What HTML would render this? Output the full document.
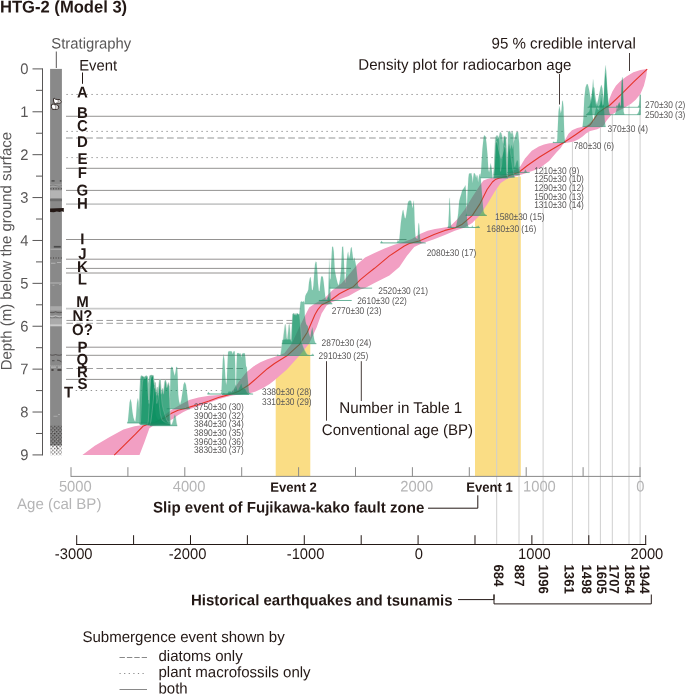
<!DOCTYPE html><html><head><meta charset="utf-8"><title>HTG-2 (Model 3)</title><style>
html,body{margin:0;padding:0;background:#fff;}svg{display:block;will-change:transform;}text{font-family:"Liberation Sans",sans-serif;}
.b{font-weight:bold;}
</style></head><body>
<svg width="685" height="694" viewBox="0 0 685 694">
<rect width="685" height="694" fill="#fff"/>
<text transform="translate(0,12.5) rotate(0.03) scale(1,1.02)" class="b" font-size="16.6" fill="#231815">HTG-2 (Model 3)</text>
<polygon points="475.0,476.0 475.0,211.4 479.6,204.4 487.1,189.5 492.4,182.0 495.3,179.6 499.5,178.0 520.8,176.6 520.8,476.0" fill="#fadd85"/>
<polygon points="275.7,476.0 275.7,362.8 286.9,355.8 299.3,344.6 310.3,344.0 310.3,476.0" fill="#fadd85"/>
<line x1="496.70" y1="188.81" x2="496.70" y2="544.00" stroke="#cfcfcf" stroke-width="1"/>
<line x1="519.00" y1="175.31" x2="519.00" y2="544.00" stroke="#cfcfcf" stroke-width="1"/>
<line x1="543.10" y1="165.48" x2="543.10" y2="544.00" stroke="#cfcfcf" stroke-width="1"/>
<line x1="572.40" y1="141.79" x2="572.40" y2="544.00" stroke="#cfcfcf" stroke-width="1"/>
<line x1="588.70" y1="131.89" x2="588.70" y2="544.00" stroke="#cfcfcf" stroke-width="1"/>
<line x1="600.40" y1="127.81" x2="600.40" y2="544.00" stroke="#cfcfcf" stroke-width="1"/>
<line x1="612.30" y1="114.24" x2="612.30" y2="544.00" stroke="#cfcfcf" stroke-width="1"/>
<line x1="629.00" y1="105.03" x2="629.00" y2="544.00" stroke="#cfcfcf" stroke-width="1"/>
<line x1="640.10" y1="95.00" x2="640.10" y2="544.00" stroke="#cfcfcf" stroke-width="1"/>
<polygon points="82.4,455.1 94.8,445.7 109.7,437.0 123.4,429.6 134.5,426.2 144.5,424.8 154.4,422.4 162.0,417.0 170.5,410.5 179.9,405.0 189.2,400.0 198.5,397.5 209.0,395.8 218.4,394.9 227.0,393.9 231.0,392.2 234.0,389.0 239.0,381.5 246.4,372.2 253.4,366.4 260.4,362.3 267.4,359.3 274.5,357.0 284.4,353.3 291.8,343.4 298.0,330.0 304.2,317.3 309.2,307.4 315.0,303.5 324.9,298.0 332.4,290.2 341.7,283.2 347.6,276.2 353.4,269.2 358.1,263.4 365.1,257.5 374.5,253.0 384.5,248.5 394.4,244.7 404.3,241.7 411.8,239.0 416.0,236.5 420.5,233.8 427.6,230.7 435.0,229.0 440.0,228.2 449.9,226.6 457.3,219.3 464.7,209.4 472.0,197.5 479.6,185.8 483.4,180.5 488.0,178.8 493.5,177.6 506.0,173.6 516.0,169.5 520.4,166.2 525.0,158.5 531.8,150.8 538.8,146.6 544.0,144.5 549.3,143.3 556.3,142.8 563.3,142.3 565.0,139.9 568.5,133.8 572.0,130.3 577.3,127.9 582.6,126.8 587.0,125.6 592.5,120.7 597.2,114.9 603.0,109.0 608.3,105.5 609.5,98.5 612.4,91.5 615.9,85.7 620.5,81.0 626.4,76.4 633.4,72.3 640.4,69.9 647.2,69.1 647.2,69.1 646.2,76.4 643.9,85.7 640.4,93.9 635.7,99.7 631.1,103.8 624.1,107.9 617.0,111.4 611.2,114.9 606.5,120.7 603.0,126.6 597.2,129.3 590.2,131.0 586.0,133.5 582.6,136.4 579.0,139.0 573.8,141.5 568.5,142.6 564.2,143.0 562.6,145.0 560.7,148.0 556.6,152.3 549.1,161.0 539.2,168.4 529.3,172.1 521.8,174.4 514.4,176.8 506.9,179.0 500.7,183.0 494.5,192.0 487.1,204.4 479.6,215.6 472.2,223.0 464.7,227.6 454.8,230.8 444.9,234.9 434.1,239.3 421.7,243.4 414.2,247.0 406.8,255.9 399.4,267.1 389.4,275.5 374.5,283.0 365.1,287.9 360.4,289.6 355.7,291.9 348.7,296.1 341.7,298.6 332.4,302.0 326.6,305.5 321.6,313.6 316.7,327.2 309.2,343.4 299.3,355.8 286.9,369.4 274.5,380.3 269.7,383.9 262.7,388.3 255.7,391.6 249.9,393.2 241.7,394.2 232.4,395.4 225.4,397.2 218.4,399.3 206.7,403.4 195.0,407.4 189.2,409.2 183.4,412.1 177.5,415.5 173.7,418.5 167.0,422.0 160.0,424.2 153.1,425.8 149.4,428.3 144.5,442.0 139.5,455.1" fill="#f29fc3"/>
<line x1="66" y1="94.46" x2="611.2" y2="94.46" stroke="#7a7a7a" stroke-width="0.8" stroke-dasharray="1.4,3.6" stroke-dashoffset="-0.4"/>
<line x1="66" y1="116.27" x2="587.0" y2="116.27" stroke="#787675" stroke-width="0.8"/>
<line x1="66" y1="131.4" x2="564.0" y2="131.4" stroke="#7a7a7a" stroke-width="0.8" stroke-dasharray="1.4,3.6" stroke-dashoffset="-0.4"/>
<line x1="66" y1="138" x2="554.5" y2="138" stroke="#c9caca" stroke-width="1.9" stroke-dasharray="6.7,3.4"/>
<line x1="66" y1="157.6" x2="516.0" y2="157.6" stroke="#7a7a7a" stroke-width="0.8" stroke-dasharray="1.4,3.6" stroke-dashoffset="-0.4"/>
<line x1="66" y1="168.3" x2="517.6" y2="168.3" stroke="#787675" stroke-width="0.8"/>
<line x1="66" y1="190.4" x2="476.6" y2="190.4" stroke="#787675" stroke-width="0.8"/>
<line x1="66" y1="204.1" x2="468.0" y2="204.1" stroke="#c9caca" stroke-width="1.7"/>
<line x1="66" y1="239.5" x2="406.5" y2="239.5" stroke="#787675" stroke-width="0.8"/>
<line x1="66" y1="259.2" x2="362.2" y2="259.2" stroke="#787675" stroke-width="0.8"/>
<line x1="66" y1="268.4" x2="351.0" y2="268.4" stroke="#787675" stroke-width="0.8"/>
<line x1="66" y1="273" x2="345.8" y2="273" stroke="#787675" stroke-width="0.8"/>
<line x1="66" y1="308.7" x2="300.5" y2="308.7" stroke="#c9caca" stroke-width="1.7"/>
<line x1="66" y1="320.45" x2="292.7" y2="320.45" stroke="#858585" stroke-width="0.8" stroke-dasharray="6.6,3.4" stroke-dashoffset="-0.4"/>
<line x1="66" y1="323.3" x2="292.7" y2="323.3" stroke="#858585" stroke-width="0.8" stroke-dasharray="6.6,3.4" stroke-dashoffset="-0.4"/>
<line x1="66" y1="347.2" x2="281.6" y2="347.2" stroke="#787675" stroke-width="0.8"/>
<line x1="66" y1="355.3" x2="277.6" y2="355.3" stroke="#787675" stroke-width="0.8"/>
<line x1="66" y1="368.5" x2="243.5" y2="368.5" stroke="#858585" stroke-width="0.8" stroke-dasharray="6.6,3.4" stroke-dashoffset="-0.4"/>
<line x1="66" y1="379.4" x2="240.7" y2="379.4" stroke="#787675" stroke-width="0.8"/>
<line x1="75.3" y1="390.5" x2="221.5" y2="390.5" stroke="#7a7a7a" stroke-width="0.8" stroke-dasharray="1.4,3.6" stroke-dashoffset="-0.4"/>
<polyline points="114.2,455.1 135.4,434.2 143.4,425.9 148.0,424.3 155.0,422.2 164.4,418.1 171.0,413.6 178.0,410.2 186.0,408.2 192.0,406.4 198.5,404.5 209.0,401.0 218.4,397.5 225.4,395.6 232.4,393.8 239.4,390.9 248.7,385.0 258.1,376.9 267.4,368.7 274.5,363.5 286.9,355.8 299.3,344.6 307.3,332.2 314.9,314.8 318.0,309.3 321.6,305.0 330.0,300.7 339.4,293.7 347.6,289.6 353.4,286.7 360.4,279.7 367.4,273.9 374.5,268.3 389.4,255.9 404.3,246.0 409.3,243.5 419.2,241.0 434.1,234.6 444.9,230.4 454.8,228.0 462.3,224.2 472.2,215.6 479.6,204.4 487.1,189.5 492.4,182.0 495.3,179.6 499.5,178.0 506.4,176.6 519.2,172.0 527.4,165.5 539.2,157.2 551.0,150.0 564.2,142.3 575.5,134.7 585.5,127.7 590.2,124.8 593.7,119.6 598.4,112.6 604.2,108.5 610.0,105.0 621.7,93.9 633.4,82.2 647.2,69.1" fill="none" stroke="#e5352b" stroke-width="1.1" stroke-linejoin="round"/>
<polygon points="582.6,126.6 583.4,118.4 584.3,98.5 585.5,87.4 586.7,84.3 587.8,84.3 589.0,89.2 590.2,96.2 591.4,103.2 592.5,114.9 593.5,121.7 594.4,116.1 595.8,109.1 597.2,103.2 598.4,98.5 599.5,92.7 600.5,87.4 601.4,84.8 602.4,88.6 603.4,98.5 604.2,112.6 604.9,121.9 605.6,126.6" fill="#0a9060" fill-opacity="0.52" stroke="#7fbfa4" stroke-opacity="0.35" stroke-width="0.3"/>
<polygon points="586.1,114.7 587.6,113.1 589.2,111.4 590.4,106.7 591.4,99.7 592.3,91.5 593.1,87.4 593.9,93.9 594.9,100.9 596.0,105.5 597.4,109.1 598.9,110.2 600.1,104.4 600.9,95.0 601.6,98.5 602.6,106.7 603.5,104.4 604.2,89.2 604.9,77.5 605.6,72.8 606.3,78.7 607.2,92.7 608.2,104.4 609.1,111.4 610.0,114.7 614.7,114.7 616.1,111.4 617.0,106.7 617.7,109.1 618.4,105.5 619.4,102.6 620.1,106.7 620.7,106.7 621.2,95.0 621.7,83.4 622.1,79.9 622.6,79.9 623.0,95.0 623.6,111.4 624.5,114.7 636.9,114.7 638.6,112.0 639.5,109.1 640.1,106.7 640.3,114.7" fill="#0a9060" fill-opacity="0.52" stroke="#7fbfa4" stroke-opacity="0.35" stroke-width="0.3"/>
<polygon points="587.6,107.3 589.0,106.5 590.4,103.2 591.6,96.2 592.5,86.9 593.1,79.3 593.7,86.9 594.4,88.0 595.1,95.0 596.0,100.9 597.2,105.0 598.4,106.5 600.1,104.4 601.3,99.7 602.4,105.5 603.5,104.4 604.2,89.2 604.9,71.7 605.6,65.3 606.3,71.7 607.2,86.9 608.2,99.7 609.1,106.1 610.0,107.3 615.9,107.3 616.8,105.0 617.5,106.1 618.4,103.8 619.4,102.0 620.1,105.5 620.9,105.5 621.4,92.7 621.7,81.0 622.1,77.5 622.6,77.5 623.0,83.4 623.4,98.5 623.8,107.3 637.5,107.3 639.0,105.0 639.7,99.7 639.9,95.0 640.2,94.5 640.4,107.3" fill="#0a9060" fill-opacity="0.52" stroke="#7fbfa4" stroke-opacity="0.35" stroke-width="0.3"/>
<polygon points="552.8,142.6 553.5,141.5 554.1,142.3 556.7,142.3 557.3,139.0 557.9,125.0 558.5,111.9 559.3,105.8 560.0,109.3 560.8,113.6 561.5,110.1 562.2,101.4 562.8,100.5 563.5,107.5 564.0,125.0 564.4,135.5 565.0,141.7 565.5,142.6" fill="#0a9060" fill-opacity="0.52" stroke="#7fbfa4" stroke-opacity="0.35" stroke-width="0.3"/>
<polygon points="480.5,177.8 480.9,173.7 481.6,162.0 482.4,149.2 483.6,137.5 484.2,135.2 485.6,136.4 486.5,143.4 487.5,155.0 488.3,169.1 489.1,172.6 489.8,169.1 490.6,163.2 491.4,166.7 492.1,172.6 492.6,177.8" fill="#0a9060" fill-opacity="0.52" stroke="#7fbfa4" stroke-opacity="0.35" stroke-width="0.3"/>
<polygon points="493.3,178.0 493.9,176.1 494.7,155.0 495.3,137.5 497.0,135.2 498.8,137.5 499.4,143.4 500.0,155.0 500.5,171.4 501.7,164.4 502.9,149.2 504.1,136.4 505.2,136.4 506.0,138.7 507.0,174.9 507.6,177.2 508.1,178.0" fill="#0a9060" fill-opacity="0.52" stroke="#7fbfa4" stroke-opacity="0.35" stroke-width="0.3"/>
<polygon points="493.5,177.2 494.5,166.7 495.3,143.4 496.5,137.5 497.6,138.7 498.8,137.5 500.0,132.3 501.1,132.8 501.9,135.2 503.1,143.4 504.1,135.8 505.8,137.5 506.6,155.0 507.2,176.1 507.8,155.0 508.4,143.4 509.3,146.9 510.5,152.7 511.6,160.9 512.8,169.1 514.0,174.9 514.6,177.2" fill="#0a9060" fill-opacity="0.52" stroke="#7fbfa4" stroke-opacity="0.35" stroke-width="0.3"/>
<polygon points="493.5,174.9 494.5,164.4 495.3,145.7 496.5,141.0 497.6,143.4 498.8,150.4 500.0,155.0 501.1,158.5 502.3,155.0 503.5,150.4 504.6,145.7 505.8,148.0 506.6,166.7 507.2,173.7 507.8,155.0 508.1,131.7 509.9,131.1 511.1,134.0 512.2,131.1 513.4,136.4 514.0,155.0 514.8,166.7 515.7,163.2 516.9,159.7 518.1,160.9 519.0,169.1 519.8,174.9" fill="#0a9060" fill-opacity="0.52" stroke="#7fbfa4" stroke-opacity="0.35" stroke-width="0.3"/>
<polygon points="507.0,172.6 507.8,155.0 508.5,143.4 509.3,144.5 510.5,149.2 511.6,144.5 512.8,149.2 513.4,143.4 514.6,138.7 516.3,132.3 518.1,131.7 519.2,143.4 519.9,172.6 523.3,172.6 524.5,171.4 525.4,169.6 526.5,171.4 527.4,172.6 529.7,172.6" fill="#0a9060" fill-opacity="0.52" stroke="#7fbfa4" stroke-opacity="0.35" stroke-width="0.3"/>
<polygon points="465.7,215.4 466.4,213.4 467.0,205.3 467.7,190.2 468.4,178.1 469.0,173.6 470.3,173.6 471.3,173.1 472.1,177.1 472.7,183.2 473.3,177.1 473.9,173.1 474.8,173.6 475.5,175.1 476.1,178.1 476.9,175.1 477.5,176.1 478.1,182.6 478.9,177.1 479.5,174.6 480.3,173.6 480.8,178.1 481.3,185.2 482.1,195.3 482.9,205.3 483.6,211.4 484.4,213.4 485.4,214.6 486.9,215.4" fill="#0a9060" fill-opacity="0.52" stroke="#7fbfa4" stroke-opacity="0.35" stroke-width="0.3"/>
<polygon points="447.6,227.5 448.3,225.5 448.9,213.4 449.4,199.3 449.7,197.8 450.1,205.3 450.7,221.5 451.3,226.5 452.1,227.3 455.6,227.3 456.3,225.5 457.1,221.5 458.2,213.4 459.2,201.3 460.2,197.3 461.2,194.2 462.2,190.2 463.4,188.7 464.7,186.7 465.4,185.2 466.0,191.2 466.4,205.3 466.8,215.4 467.4,222.5 468.2,226.5 469.2,227.3 471.5,227.3 472.3,225.5 472.9,227.1 476.3,226.9 477.0,225.8 477.6,226.7 478.3,225.5 479.1,226.7 479.8,227.5" fill="#0a9060" fill-opacity="0.52" stroke="#7fbfa4" stroke-opacity="0.35" stroke-width="0.3"/>
<polygon points="380.4,243.0 381.0,241.7 381.6,240.8 382.2,242.1 382.9,242.7 396.5,242.7 397.3,241.7 397.9,239.9 398.6,241.2 399.3,239.9 400.0,232.0 400.8,223.3 401.7,216.3 402.6,211.0 403.2,209.7 403.9,213.6 404.8,218.0 405.5,218.5 406.1,215.4 407.0,209.3 407.8,203.1 408.7,200.9 410.0,200.5 411.1,200.9 411.8,204.5 412.7,208.4 413.3,203.1 413.7,200.5 414.2,207.5 414.6,220.7 415.1,232.0 415.6,237.7 416.6,238.6 417.5,239.0 417.9,233.8 418.4,225.0 418.8,222.8 419.2,225.0 419.7,233.8 420.4,240.8 421.4,242.6 425.8,243.0" fill="#0a9060" fill-opacity="0.52" stroke="#7fbfa4" stroke-opacity="0.35" stroke-width="0.3"/>
<polygon points="329.6,288.2 330.0,278.5 330.6,279.7 331.2,263.4 332.1,247.0 333.0,246.4 333.8,251.7 334.7,269.2 335.9,276.2 337.6,283.2 338.8,285.5 340.0,279.7 341.1,269.2 342.1,247.0 343.1,246.4 343.8,257.5 344.6,278.5 345.2,283.2 346.0,275.0 346.7,261.0 347.6,254.0 348.1,251.7 349.0,258.7 349.9,255.2 350.8,248.2 351.6,247.0 352.5,254.0 353.4,261.0 354.3,257.5 355.1,261.0 356.3,266.9 357.5,278.5 358.1,286.1 360.4,287.8 372.1,288.0" fill="#0a9060" fill-opacity="0.52" stroke="#7fbfa4" stroke-opacity="0.35" stroke-width="0.3"/>
<polygon points="318.9,300.5 318.9,300.1 328.1,300.1 328.5,286.7 328.9,269.2 329.2,258.7 329.7,275.0 330.2,289.1 330.7,300.1 351.6,300.1 351.6,300.5" fill="#0a9060" fill-opacity="0.52" stroke="#7fbfa4" stroke-opacity="0.35" stroke-width="0.3"/>
<polygon points="304.5,303.8 305.3,295.9 306.3,293.8 307.3,292.3 308.3,289.7 309.0,282.6 309.9,278.0 310.5,277.0 311.2,281.6 311.9,289.7 312.7,290.3 313.4,285.7 314.1,275.4 315.0,264.2 315.8,261.6 316.5,262.2 317.2,270.3 318.0,283.6 318.8,290.8 319.6,291.3 320.3,283.6 321.1,277.0 321.9,275.9 322.9,277.0 323.6,281.6 324.4,288.7 325.2,295.9 326.0,300.0 327.2,297.9 328.2,295.9 329.3,297.9 330.8,302.0 332.3,303.8" fill="#0a9060" fill-opacity="0.52" stroke="#7fbfa4" stroke-opacity="0.35" stroke-width="0.3"/>
<polygon points="281.9,343.7 282.3,339.9 285.1,339.4 288.2,339.6 291.4,339.4 292.0,325.3 292.7,314.2 293.4,312.9 294.2,314.7 295.0,313.2 296.0,315.2 297.0,312.9 298.2,314.2 299.4,313.7 300.0,307.1 300.6,302.1 301.5,301.3 302.5,302.1 303.5,301.3 304.3,302.1 304.8,315.2 305.5,321.2 306.3,324.2 307.8,326.3 308.8,333.3 310.3,337.4 311.3,331.3 312.4,327.3 313.2,333.3 314.4,340.4 315.4,342.9 316.4,343.7" fill="#0a9060" fill-opacity="0.52" stroke="#7fbfa4" stroke-opacity="0.35" stroke-width="0.3"/>
<polygon points="277.1,355.5 277.9,354.3 278.7,355.3 280.6,355.1 281.3,349.5 282.1,343.4 283.1,339.4 284.1,331.3 284.9,325.3 285.4,324.2 285.9,328.3 286.6,337.4 287.3,339.4 288.2,331.3 288.9,324.7 289.4,324.4 289.9,328.3 290.6,339.4 291.4,341.4 292.0,325.3 292.7,314.2 293.4,313.2 294.2,315.0 295.0,313.4 296.0,315.4 297.0,313.2 298.2,314.4 299.4,314.0 300.3,323.2 301.1,335.3 301.8,342.4 302.8,345.4 304.3,349.5 305.3,351.5 306.3,353.3 307.3,354.5 308.8,355.0 310.3,355.3 311.8,354.7 312.9,353.8 313.9,355.5" fill="#0a9060" fill-opacity="0.52" stroke="#7fbfa4" stroke-opacity="0.35" stroke-width="0.3"/>
<polygon points="207.4,394.1 208.0,392.6 208.6,391.9 209.2,393.1 210.0,393.7 220.9,393.7 221.5,391.6 222.1,376.3 222.9,358.9 223.7,354.3 224.5,360.9 225.3,376.3 226.1,385.0 226.8,381.4 227.4,366.0 228.0,352.8 228.6,351.2 230.7,351.2 231.9,351.5 232.7,354.3 233.5,351.5 234.7,351.2 235.2,366.0 235.5,389.5 236.0,389.5 236.4,371.2 237.0,353.3 238.3,353.0 239.3,353.8 240.4,353.3 241.4,357.4 242.1,353.8 243.4,353.3 244.8,353.3 245.5,358.9 246.0,366.0 246.8,367.6 247.5,376.3 248.2,383.4 249.0,392.6 250.6,393.6 253.1,394.1" fill="#0a9060" fill-opacity="0.52" stroke="#7fbfa4" stroke-opacity="0.35" stroke-width="0.3"/>
<polygon points="222.0,394.4 223.0,393.6 224.0,393.1 225.0,393.8 227.6,393.6 228.6,391.6 230.7,391.6 231.7,392.6 232.5,390.6 233.3,392.1 234.2,389.5 235.1,386.5 235.8,384.4 236.5,387.5 237.3,390.1 238.0,390.6 238.8,388.5 239.9,386.5 240.7,384.4 241.4,383.4 242.1,386.5 242.9,388.5 243.9,388.3 245.0,388.5 246.0,390.6 247.0,392.6 248.0,393.6 249.0,394.4" fill="#0a9060" fill-opacity="0.52" stroke="#7fbfa4" stroke-opacity="0.35" stroke-width="0.3"/>
<polygon points="166.7,408.8 169.6,408.4 170.2,388.4 170.6,369.7 171.4,366.8 172.6,367.3 173.7,372.0 174.7,376.1 175.5,372.0 176.3,366.8 177.2,367.3 177.7,376.7 178.2,394.2 179.0,401.2 180.1,404.7 181.3,400.0 182.5,391.9 183.6,384.3 184.8,381.9 186.0,384.9 187.2,394.2 188.3,403.5 189.1,408.2 190.1,408.8" fill="#0a9060" fill-opacity="0.52" stroke="#7fbfa4" stroke-opacity="0.35" stroke-width="0.3"/>
<polygon points="127.2,423.0 127.9,421.1 128.8,411.7 129.6,402.4 130.5,398.9 131.4,402.4 132.4,411.7 133.4,417.6 134.6,421.1 135.4,421.6 136.1,415.2 136.9,403.5 137.8,398.3 138.5,401.2 139.0,409.4 139.5,394.2 140.1,379.0 141.0,375.5 142.8,376.1 143.9,377.3 145.1,376.1 146.6,375.5 147.6,376.7 148.0,383.7 148.7,380.2 149.7,375.5 151.3,374.9 152.9,375.3 153.9,377.8 154.5,394.2 155.0,409.4 156.2,416.4 158.5,419.9 162.0,421.6 166.7,422.5 170.2,423.0" fill="#0a9060" fill-opacity="0.52" stroke="#7fbfa4" stroke-opacity="0.35" stroke-width="0.3"/>
<polygon points="139.3,424.0 139.9,400.0 140.6,381.4 141.3,376.1 143.4,376.7 144.8,377.8 146.3,376.1 147.4,376.7 148.0,388.4 148.6,400.0 149.2,388.4 149.9,376.1 151.5,375.3 153.3,375.7 154.1,382.5 154.7,384.9 155.3,382.5 156.0,390.7 156.8,403.5 157.6,400.0 158.5,394.2 159.2,403.5 160.3,414.1 162.0,419.9 165.5,422.8 170.2,424.0" fill="#0a9060" fill-opacity="0.52" stroke="#7fbfa4" stroke-opacity="0.35" stroke-width="0.3"/>
<polygon points="140.4,424.6 141.0,411.7 141.7,394.2 142.4,382.5 143.4,377.8 145.1,379.0 146.6,376.7 147.6,377.8 148.3,394.2 149.0,403.5 149.7,394.2 150.4,380.2 151.5,376.1 153.2,376.1 153.9,380.2 154.6,384.9 155.3,382.5 156.0,391.9 156.7,395.4 157.4,387.8 158.1,394.2 158.8,388.4 159.5,380.2 160.1,379.0 160.6,384.9 161.3,395.4 162.0,403.5 163.2,409.4 165.0,415.2 166.7,419.9 168.5,422.8 170.2,424.6" fill="#0a9060" fill-opacity="0.52" stroke="#7fbfa4" stroke-opacity="0.35" stroke-width="0.3"/>
<polygon points="147.4,425.1 148.3,421.1 149.2,405.9 149.9,388.4 150.6,379.0 151.5,375.5 153.2,375.5 153.9,381.4 154.6,388.4 155.3,383.1 156.0,391.9 156.8,389.5 157.4,387.2 158.1,393.0 158.8,387.2 159.5,380.2 160.1,379.0 160.6,383.7 161.3,393.0 162.0,389.5 162.7,388.4 163.4,393.0 164.1,387.2 164.8,381.4 165.5,379.6 166.2,382.5 166.9,387.2 167.6,384.9 168.5,382.5 169.2,386.0 169.8,400.0 170.2,425.1" fill="#0a9060" fill-opacity="0.52" stroke="#7fbfa4" stroke-opacity="0.35" stroke-width="0.3"/>
<polygon points="149.8,425.7 150.9,421.1 152.1,411.7 153.3,400.0 154.1,388.4 155.0,382.5 155.7,388.4 156.4,391.9 157.4,387.2 158.1,395.4 158.8,388.4 159.5,380.8 160.1,379.2 160.6,384.3 161.3,394.2 162.0,390.1 162.7,388.4 163.4,394.2 164.1,387.8 164.8,381.9 165.5,379.8 166.2,382.8 166.9,387.8 167.6,385.4 168.5,382.8 169.2,386.6 169.8,400.0 170.2,424.0 171.2,424.8 172.0,424.0 173.1,421.1 174.3,415.8 174.9,414.6 175.6,416.4 176.4,422.2 177.2,425.7" fill="#0a9060" fill-opacity="0.52" stroke="#7fbfa4" stroke-opacity="0.35" stroke-width="0.3"/>
<polyline points="493.3,178.0 493.9,176.1 494.7,155.0 495.3,137.5 497.0,135.2 498.8,137.5 499.4,143.4 500.0,155.0 500.5,171.4 501.7,164.4 502.9,149.2 504.1,136.4 505.2,136.4 506.0,138.7 507.0,174.9 507.6,177.2 508.1,178.0" fill="none" stroke="#b7cdc1" stroke-opacity="0.55" stroke-width="0.5"/>
<polyline points="493.5,177.2 494.5,166.7 495.3,143.4 496.5,137.5 497.6,138.7 498.8,137.5 500.0,132.3 501.1,132.8 501.9,135.2 503.1,143.4 504.1,135.8 505.8,137.5 506.6,155.0 507.2,176.1 507.8,155.0 508.4,143.4 509.3,146.9 510.5,152.7 511.6,160.9 512.8,169.1 514.0,174.9 514.6,177.2" fill="none" stroke="#b7cdc1" stroke-opacity="0.55" stroke-width="0.5"/>
<polyline points="493.5,174.9 494.5,164.4 495.3,145.7 496.5,141.0 497.6,143.4 498.8,150.4 500.0,155.0 501.1,158.5 502.3,155.0 503.5,150.4 504.6,145.7 505.8,148.0 506.6,166.7 507.2,173.7 507.8,155.0 508.1,131.7 509.9,131.1 511.1,134.0 512.2,131.1 513.4,136.4 514.0,155.0 514.8,166.7 515.7,163.2 516.9,159.7 518.1,160.9 519.0,169.1 519.8,174.9" fill="none" stroke="#b7cdc1" stroke-opacity="0.55" stroke-width="0.5"/>
<polyline points="277.1,355.5 277.9,354.3 278.7,355.3 280.6,355.1 281.3,349.5 282.1,343.4 283.1,339.4 284.1,331.3 284.9,325.3 285.4,324.2 285.9,328.3 286.6,337.4 287.3,339.4 288.2,331.3 288.9,324.7 289.4,324.4 289.9,328.3 290.6,339.4 291.4,341.4 292.0,325.3 292.7,314.2 293.4,313.2 294.2,315.0 295.0,313.4 296.0,315.4 297.0,313.2 298.2,314.4 299.4,314.0 300.3,323.2 301.1,335.3 301.8,342.4 302.8,345.4 304.3,349.5 305.3,351.5 306.3,353.3 307.3,354.5 308.8,355.0 310.3,355.3 311.8,354.7 312.9,353.8 313.9,355.5" fill="none" stroke="#b7cdc1" stroke-opacity="0.55" stroke-width="0.5"/>
<polyline points="139.3,424.0 139.9,400.0 140.6,381.4 141.3,376.1 143.4,376.7 144.8,377.8 146.3,376.1 147.4,376.7 148.0,388.4 148.6,400.0 149.2,388.4 149.9,376.1 151.5,375.3 153.3,375.7 154.1,382.5 154.7,384.9 155.3,382.5 156.0,390.7 156.8,403.5 157.6,400.0 158.5,394.2 159.2,403.5 160.3,414.1 162.0,419.9 165.5,422.8 170.2,424.0" fill="none" stroke="#b7cdc1" stroke-opacity="0.55" stroke-width="0.5"/>
<polyline points="140.4,424.6 141.0,411.7 141.7,394.2 142.4,382.5 143.4,377.8 145.1,379.0 146.6,376.7 147.6,377.8 148.3,394.2 149.0,403.5 149.7,394.2 150.4,380.2 151.5,376.1 153.2,376.1 153.9,380.2 154.6,384.9 155.3,382.5 156.0,391.9 156.7,395.4 157.4,387.8 158.1,394.2 158.8,388.4 159.5,380.2 160.1,379.0 160.6,384.9 161.3,395.4 162.0,403.5 163.2,409.4 165.0,415.2 166.7,419.9 168.5,422.8 170.2,424.6" fill="none" stroke="#b7cdc1" stroke-opacity="0.55" stroke-width="0.5"/>
<polyline points="147.4,425.1 148.3,421.1 149.2,405.9 149.9,388.4 150.6,379.0 151.5,375.5 153.2,375.5 153.9,381.4 154.6,388.4 155.3,383.1 156.0,391.9 156.8,389.5 157.4,387.2 158.1,393.0 158.8,387.2 159.5,380.2 160.1,379.0 160.6,383.7 161.3,393.0 162.0,389.5 162.7,388.4 163.4,393.0 164.1,387.2 164.8,381.4 165.5,379.6 166.2,382.5 166.9,387.2 167.6,384.9 168.5,382.5 169.2,386.0 169.8,400.0 170.2,425.1" fill="none" stroke="#b7cdc1" stroke-opacity="0.55" stroke-width="0.5"/>
<polyline points="149.8,425.7 150.9,421.1 152.1,411.7 153.3,400.0 154.1,388.4 155.0,382.5 155.7,388.4 156.4,391.9 157.4,387.2 158.1,395.4 158.8,388.4 159.5,380.8 160.1,379.2 160.6,384.3 161.3,394.2 162.0,390.1 162.7,388.4 163.4,394.2 164.1,387.8 164.8,381.9 165.5,379.8 166.2,382.8 166.9,387.8 167.6,385.4 168.5,382.8 169.2,386.6 169.8,400.0 170.2,424.0 171.2,424.8 172.0,424.0 173.1,421.1 174.3,415.8 174.9,414.6 175.6,416.4 176.4,422.2 177.2,425.7" fill="none" stroke="#b7cdc1" stroke-opacity="0.55" stroke-width="0.5"/>
<line x1="582.6" y1="126.57" x2="605.6" y2="126.57" stroke="#1d8a62" stroke-opacity="0.8" stroke-width="0.6"/>
<line x1="586.1" y1="114.66" x2="640.3" y2="114.66" stroke="#1d8a62" stroke-opacity="0.8" stroke-width="0.6"/>
<line x1="587.6" y1="107.30" x2="640.4" y2="107.30" stroke="#1d8a62" stroke-opacity="0.8" stroke-width="0.6"/>
<line x1="552.8" y1="142.55" x2="565.5" y2="142.55" stroke="#1d8a62" stroke-opacity="0.8" stroke-width="0.6"/>
<line x1="480.5" y1="177.81" x2="492.6" y2="177.81" stroke="#1d8a62" stroke-opacity="0.8" stroke-width="0.6"/>
<line x1="493.3" y1="178.04" x2="508.1" y2="178.04" stroke="#1d8a62" stroke-opacity="0.8" stroke-width="0.6"/>
<line x1="493.5" y1="177.23" x2="514.6" y2="177.23" stroke="#1d8a62" stroke-opacity="0.8" stroke-width="0.6"/>
<line x1="493.5" y1="174.89" x2="519.8" y2="174.89" stroke="#1d8a62" stroke-opacity="0.8" stroke-width="0.6"/>
<line x1="507.0" y1="172.55" x2="529.7" y2="172.55" stroke="#1d8a62" stroke-opacity="0.8" stroke-width="0.6"/>
<line x1="465.7" y1="215.42" x2="486.9" y2="215.42" stroke="#1d8a62" stroke-opacity="0.8" stroke-width="0.6"/>
<line x1="447.6" y1="227.52" x2="479.8" y2="227.52" stroke="#1d8a62" stroke-opacity="0.8" stroke-width="0.6"/>
<line x1="380.4" y1="242.99" x2="425.8" y2="242.99" stroke="#1d8a62" stroke-opacity="0.8" stroke-width="0.6"/>
<line x1="329.6" y1="288.23" x2="372.1" y2="288.23" stroke="#1d8a62" stroke-opacity="0.8" stroke-width="0.6"/>
<line x1="318.9" y1="300.50" x2="351.6" y2="300.50" stroke="#1d8a62" stroke-opacity="0.8" stroke-width="0.6"/>
<line x1="304.5" y1="303.85" x2="332.3" y2="303.85" stroke="#1d8a62" stroke-opacity="0.8" stroke-width="0.6"/>
<line x1="281.9" y1="343.70" x2="316.4" y2="343.70" stroke="#1d8a62" stroke-opacity="0.8" stroke-width="0.6"/>
<line x1="277.1" y1="355.50" x2="313.9" y2="355.50" stroke="#1d8a62" stroke-opacity="0.8" stroke-width="0.6"/>
<line x1="207.4" y1="394.15" x2="253.1" y2="394.15" stroke="#1d8a62" stroke-opacity="0.8" stroke-width="0.6"/>
<line x1="222.0" y1="394.35" x2="249.0" y2="394.35" stroke="#1d8a62" stroke-opacity="0.8" stroke-width="0.6"/>
<line x1="166.7" y1="408.80" x2="190.1" y2="408.80" stroke="#1d8a62" stroke-opacity="0.8" stroke-width="0.6"/>
<line x1="127.2" y1="423.04" x2="170.2" y2="423.04" stroke="#1d8a62" stroke-opacity="0.8" stroke-width="0.6"/>
<line x1="139.3" y1="423.98" x2="170.2" y2="423.98" stroke="#1d8a62" stroke-opacity="0.8" stroke-width="0.6"/>
<line x1="140.4" y1="424.56" x2="170.2" y2="424.56" stroke="#1d8a62" stroke-opacity="0.8" stroke-width="0.6"/>
<line x1="147.4" y1="425.15" x2="170.2" y2="425.15" stroke="#1d8a62" stroke-opacity="0.8" stroke-width="0.6"/>
<line x1="149.8" y1="425.73" x2="177.2" y2="425.73" stroke="#1d8a62" stroke-opacity="0.8" stroke-width="0.6"/>
<line x1="640.30" y1="94.60" x2="640.30" y2="114.70" stroke="#1d8a62" stroke-width="0.6" stroke-opacity="0.8"/>
<text transform="translate(82.4,97.6) rotate(0.03) scale(1,1.04)" class="b" font-size="15" fill="#231815" text-anchor="middle">A</text>
<text transform="translate(82.4,118) rotate(0.03) scale(1,1.04)" class="b" font-size="15" fill="#231815" text-anchor="middle">B</text>
<text transform="translate(82.4,130.9) rotate(0.03) scale(1,1.04)" class="b" font-size="15" fill="#231815" text-anchor="middle">C</text>
<text transform="translate(82.4,146.9) rotate(0.03) scale(1,1.04)" class="b" font-size="15" fill="#231815" text-anchor="middle">D</text>
<text transform="translate(82.4,163.9) rotate(0.03) scale(1,1.04)" class="b" font-size="15" fill="#231815" text-anchor="middle">E</text>
<text transform="translate(82.4,178) rotate(0.03) scale(1,1.04)" class="b" font-size="15" fill="#231815" text-anchor="middle">F</text>
<text transform="translate(82.4,195.5) rotate(0.03) scale(1,1.04)" class="b" font-size="15" fill="#231815" text-anchor="middle">G</text>
<text transform="translate(82.4,208.7) rotate(0.03) scale(1,1.04)" class="b" font-size="15" fill="#231815" text-anchor="middle">H</text>
<text transform="translate(82.4,244.3) rotate(0.03) scale(1,1.04)" class="b" font-size="15" fill="#231815" text-anchor="middle">I</text>
<text transform="translate(82.4,259.1) rotate(0.03) scale(1,1.04)" class="b" font-size="15" fill="#231815" text-anchor="middle">J</text>
<text transform="translate(82.4,271.9) rotate(0.03) scale(1,1.04)" class="b" font-size="15" fill="#231815" text-anchor="middle">K</text>
<text transform="translate(82.4,284.4) rotate(0.03) scale(1,1.04)" class="b" font-size="15" fill="#231815" text-anchor="middle">L</text>
<text transform="translate(82.4,306.9) rotate(0.03) scale(1,1.04)" class="b" font-size="15" fill="#231815" text-anchor="middle">M</text>
<text transform="translate(82.4,321) rotate(0.03) scale(1,1.04)" class="b" font-size="15" fill="#231815" text-anchor="middle">N?</text>
<text transform="translate(82.4,335.1) rotate(0.03) scale(1,1.04)" class="b" font-size="15" fill="#231815" text-anchor="middle">O?</text>
<text transform="translate(82.4,352.5) rotate(0.03) scale(1,1.04)" class="b" font-size="15" fill="#231815" text-anchor="middle">P</text>
<text transform="translate(82.4,364.7) rotate(0.03) scale(1,1.04)" class="b" font-size="15" fill="#231815" text-anchor="middle">Q</text>
<text transform="translate(82.4,377.3) rotate(0.03) scale(1,1.04)" class="b" font-size="15" fill="#231815" text-anchor="middle">R</text>
<text transform="translate(82.4,389) rotate(0.03) scale(1,1.04)" class="b" font-size="15" fill="#231815" text-anchor="middle">S</text>
<text transform="translate(68.6,397.6) rotate(0.03) scale(1,1.04)" class="b" font-size="15" fill="#231815" text-anchor="middle">T</text>
<defs><pattern id="dots" x="50.5" y="425.6" width="3.6" height="3.7" patternUnits="userSpaceOnUse"><circle cx="0.7" cy="0.8" r="0.7" fill="#2a2625"/><circle cx="2.5" cy="2.65" r="0.7" fill="#2a2625"/></pattern></defs>
<rect x="50.1" y="68.9" width="11.799999999999997" height="376.79999999999995" fill="#898989"/>
<path d="M53.7,98.5 q1.1,-0.5 1.8,0.7 q2.4,0.4 4.4,0.5 q1.7,1.5 0.9,3.1 q-2.2,0.6 -4.3,0.4 q-1,0.8 -2.1,0.2 q-1.3,-2.4 -0.7,-4.9 z" fill="#fff" stroke="#231815" stroke-width="0.95" stroke-linejoin="round"/>
<path d="M57.9,100 q1.6,-0.2 2.2,0.2 q0.9,1.1 0.4,2.3 q-1.3,0.4 -2.4,0.3 z" fill="#c9c5c4"/><path d="M57.8,99.8 q0.5,1.5 0.2,3" fill="none" stroke="#3a3534" stroke-width="0.4"/>
<path d="M51.7,104.5 q1.5,-1 2.9,0.2 q2.2,0.1 3.7,0.9 q0.9,1.6 0,3 q-2.1,1.2 -4.1,0.8 q-1.6,0.2 -2.3,-0.8 q-0.8,-2 -0.2,-4.1 z" fill="#fff" stroke="#231815" stroke-width="0.95" stroke-linejoin="round"/>
<path d="M55.6,105.6 q1.4,0 2.2,0.5 q0.6,1.2 0,2.3 q-1.1,0.6 -2.2,0.5 z" fill="#d2cfce"/><path d="M55.3,105.2 q0.5,1.8 0.1,3.8" fill="none" stroke="#3a3534" stroke-width="0.4"/>
<rect x="51.5" y="180.2" width="3.1" height="1.4" fill="#4a4a4a"/>
<rect x="59.8" y="180.2" width="1.6" height="1.4" fill="#4a4a4a"/>
<rect x="50.1" y="184.5" width="11.8" height="2.3" fill="#a8a8a8"/>
<path d="M50.1,185.6 q3,-1 6,0 t5.8,0" fill="none" stroke="#555" stroke-width="0.5"/>
<line x1="50.4" y1="188.8" x2="61.9" y2="188.8" stroke="#3e3a39" stroke-width="1" stroke-dasharray="1,1.6"/>
<rect x="50.1" y="190.3" width="11.8" height="7.9" fill="#b4b4b4"/>
<rect x="50.1" y="198.9" width="11.8" height="2.3" fill="#6e6e6e"/>
<path d="M50.1,208.6 l13.7,-.5 l0,3.8 l-2,-.6 l-2,.8 l-3,-.5 l-3,.6 l-3.7,-.2 z" fill="#231815"/>
<rect x="53.8" y="245.9" width="7.0" height="1.7" fill="#4a4a4a"/>
<rect x="50.1" y="248.6" width="11.8" height="1.4" fill="#a4a4a4"/>
<line x1="50.4" y1="258" x2="61.9" y2="258" stroke="#3e3a39" stroke-width="1" stroke-dasharray="1,1.6"/>
<rect x="51.0" y="262.8" width="4.5" height="0.8" fill="#bdbdbd"/>
<rect x="57.0" y="262.2" width="4.0" height="0.8" fill="#bdbdbd"/>
<rect x="50.1" y="282.4" width="11.8" height="1.2" fill="#b0b0b0"/>
<rect x="52.5" y="284.8" width="2.0" height="0.8" fill="#b0b0b0"/>
<rect x="59.0" y="284.2" width="2.0" height="0.8" fill="#b0b0b0"/>
<rect x="50.1" y="306.2" width="11.8" height="4.4" fill="#a9a9a9"/>
<path d="M50.1,312.4 q2,.5 4,0 q1.5,-1.2 3,0 q2,.5 4.8,0" fill="none" stroke="#3e3a39" stroke-width="0.6"/>
<rect x="50.1" y="315.3" width="11.8" height="3.1" fill="#9a9a9a"/>
<path d="M50.1,316.2 q2,1 4,0 q1.5,-1 3,0 q2,1 4.8,0" fill="none" stroke="#d5d5d5" stroke-width="0.6"/>
<path d="M50.1,317.6 q2,1 4,0 q1.5,-1 3,0 q2,1 4.8,0" fill="none" stroke="#555" stroke-width="0.5"/>
<rect x="50.1" y="318.4" width="11.8" height="5.8" fill="#aaaaaa"/>
<rect x="50.1" y="324.2" width="11.8" height="2.1" fill="#cacaca"/>
<path d="M50.1,354.8 q2,.8 4,.2 q1.5,-.9 3,0 q2,.6 4.8,-.2" fill="none" stroke="#3e3a39" stroke-width="0.7"/>
<rect x="52.0" y="360.3" width="2.5" height="0.9" fill="#4a4a4a"/>
<path d="M57,360.2 l2,.2 l2.4,1.4" fill="none" stroke="#3e3a39" stroke-width="0.7"/>
<line x1="50.4" y1="365.8" x2="61.9" y2="365.8" stroke="#c8c8c8" stroke-width="0.7" stroke-dasharray="1,1"/>
<rect x="51.0" y="366.7" width="5.0" height="0.8" fill="#d0d0d0"/>
<rect x="58.0" y="366.7" width="3.0" height="0.8" fill="#d0d0d0"/>
<rect x="51.4" y="369.2" width="2.2" height="1.6" fill="#3e3a39"/>
<rect x="57.4" y="369.2" width="4.0" height="1.6" fill="#3e3a39"/>
<rect x="53.5" y="415.8" width="4.0" height="0.8" fill="#b5b5b5"/>
<rect x="58.0" y="414.0" width="2.0" height="0.8" fill="#b5b5b5"/>
<rect x="50.1" y="425.6" width="11.799999999999997" height="29.599999999999966" fill="url(#dots)"/>
<circle cx="53.5" cy="432.3" r="0.7" fill="#fff" stroke="#3e3a39" stroke-width="0.5"/><circle cx="57.6" cy="439.5" r="0.7" fill="#fff" stroke="#3e3a39" stroke-width="0.5"/><path d="M56.6,446.8 q1.6,1 0.6,2.6" fill="none" stroke="#3e3a39" stroke-width="0.7"/>
<line x1="42.50" y1="68.40" x2="42.50" y2="455.41" stroke="#595757" stroke-width="1"/>
<line x1="32.50" y1="68.90" x2="42.50" y2="68.90" stroke="#595757" stroke-width="1"/>
<text transform="translate(28.5,74.1) rotate(0.03) scale(1,1.04)" font-size="14.75" fill="#595757" text-anchor="end">0</text>
<line x1="36.00" y1="90.34" x2="42.50" y2="90.34" stroke="#595757" stroke-width="1"/>
<line x1="32.50" y1="111.79" x2="42.50" y2="111.79" stroke="#595757" stroke-width="1"/>
<text transform="translate(28.5,116.99) rotate(0.03) scale(1,1.04)" font-size="14.75" fill="#595757" text-anchor="end">1</text>
<line x1="36.00" y1="133.24" x2="42.50" y2="133.24" stroke="#595757" stroke-width="1"/>
<line x1="32.50" y1="154.68" x2="42.50" y2="154.68" stroke="#595757" stroke-width="1"/>
<text transform="translate(28.5,159.88) rotate(0.03) scale(1,1.04)" font-size="14.75" fill="#595757" text-anchor="end">2</text>
<line x1="36.00" y1="176.12" x2="42.50" y2="176.12" stroke="#595757" stroke-width="1"/>
<line x1="32.50" y1="197.57" x2="42.50" y2="197.57" stroke="#595757" stroke-width="1"/>
<text transform="translate(28.5,202.77) rotate(0.03) scale(1,1.04)" font-size="14.75" fill="#595757" text-anchor="end">3</text>
<line x1="36.00" y1="219.02" x2="42.50" y2="219.02" stroke="#595757" stroke-width="1"/>
<line x1="32.50" y1="240.46" x2="42.50" y2="240.46" stroke="#595757" stroke-width="1"/>
<text transform="translate(28.5,245.66) rotate(0.03) scale(1,1.04)" font-size="14.75" fill="#595757" text-anchor="end">4</text>
<line x1="36.00" y1="261.90" x2="42.50" y2="261.90" stroke="#595757" stroke-width="1"/>
<line x1="32.50" y1="283.35" x2="42.50" y2="283.35" stroke="#595757" stroke-width="1"/>
<text transform="translate(28.5,288.55) rotate(0.03) scale(1,1.04)" font-size="14.75" fill="#595757" text-anchor="end">5</text>
<line x1="36.00" y1="304.80" x2="42.50" y2="304.80" stroke="#595757" stroke-width="1"/>
<line x1="32.50" y1="326.24" x2="42.50" y2="326.24" stroke="#595757" stroke-width="1"/>
<text transform="translate(28.5,331.44) rotate(0.03) scale(1,1.04)" font-size="14.75" fill="#595757" text-anchor="end">6</text>
<line x1="36.00" y1="347.69" x2="42.50" y2="347.69" stroke="#595757" stroke-width="1"/>
<line x1="32.50" y1="369.13" x2="42.50" y2="369.13" stroke="#595757" stroke-width="1"/>
<text transform="translate(28.5,374.33) rotate(0.03) scale(1,1.04)" font-size="14.75" fill="#595757" text-anchor="end">7</text>
<line x1="36.00" y1="390.58" x2="42.50" y2="390.58" stroke="#595757" stroke-width="1"/>
<line x1="32.50" y1="412.02" x2="42.50" y2="412.02" stroke="#595757" stroke-width="1"/>
<text transform="translate(28.5,417.22) rotate(0.03) scale(1,1.04)" font-size="14.75" fill="#595757" text-anchor="end">8</text>
<line x1="36.00" y1="433.47" x2="42.50" y2="433.47" stroke="#595757" stroke-width="1"/>
<line x1="32.50" y1="454.91" x2="42.50" y2="454.91" stroke="#595757" stroke-width="1"/>
<text transform="translate(28.5,460.11) rotate(0.03) scale(1,1.04)" font-size="14.75" fill="#595757" text-anchor="end">9</text>
<text transform="translate(11.4,370.3) rotate(-90.03) scale(1,1.02)" font-size="14.95" fill="#595757">Depth (m) below the ground surface</text>
<text transform="translate(51.3,48.4) rotate(0.03) scale(1,1.02)" font-size="14.85" fill="#595757">Stratigraphy</text>
<line x1="56.30" y1="51.50" x2="56.30" y2="68.00" stroke="#595757" stroke-width="1"/>
<text transform="translate(79.2,70.6) rotate(0.03) scale(1,1.02)" font-size="14.85" fill="#231815">Event</text>
<line x1="82.50" y1="72.50" x2="82.50" y2="83.80" stroke="#231815" stroke-width="1"/>
<line x1="71.00" y1="476.40" x2="640.50" y2="476.40" stroke="#898989" stroke-width="1"/>
<line x1="71.00" y1="467.20" x2="71.00" y2="476.90" stroke="#898989" stroke-width="1"/>
<line x1="127.90" y1="467.20" x2="127.90" y2="476.90" stroke="#898989" stroke-width="1"/>
<line x1="184.80" y1="467.20" x2="184.80" y2="476.90" stroke="#898989" stroke-width="1"/>
<line x1="241.70" y1="467.20" x2="241.70" y2="476.90" stroke="#898989" stroke-width="1"/>
<line x1="298.60" y1="467.20" x2="298.60" y2="476.90" stroke="#898989" stroke-width="1"/>
<line x1="355.50" y1="467.20" x2="355.50" y2="476.90" stroke="#898989" stroke-width="1"/>
<line x1="412.40" y1="467.20" x2="412.40" y2="476.90" stroke="#898989" stroke-width="1"/>
<line x1="469.30" y1="467.20" x2="469.30" y2="476.90" stroke="#898989" stroke-width="1"/>
<line x1="526.20" y1="467.20" x2="526.20" y2="476.90" stroke="#898989" stroke-width="1"/>
<line x1="583.10" y1="467.20" x2="583.10" y2="476.90" stroke="#898989" stroke-width="1"/>
<line x1="640.00" y1="467.20" x2="640.00" y2="476.90" stroke="#898989" stroke-width="1"/>
<text transform="translate(75.3,491.5) rotate(0.03) scale(1,1.04)" font-size="14.75" fill="#b5b5b6" text-anchor="middle">5000</text>
<text transform="translate(189.1,491.5) rotate(0.03) scale(1,1.04)" font-size="14.75" fill="#b5b5b6" text-anchor="middle">4000</text>
<text transform="translate(416.7,491.5) rotate(0.03) scale(1,1.04)" font-size="14.75" fill="#b5b5b6" text-anchor="middle">2000</text>
<text transform="translate(539.4,491.5) rotate(0.03) scale(1,1.04)" font-size="14.75" fill="#b5b5b6" text-anchor="middle">1000</text>
<text transform="translate(640.4,491.5) rotate(0.03) scale(1,1.04)" font-size="14.75" fill="#b5b5b6" text-anchor="middle">0</text>
<text transform="translate(17,509) rotate(0.03) scale(1,1.02)" font-size="15.05" fill="#b5b5b6">Age (cal BP)</text>
<text transform="translate(270.2,491.8) rotate(0.03) scale(1,1.02)" class="b" font-size="13.1" fill="#231815">Event 2</text>
<text transform="translate(466.2,491.8) rotate(0.03) scale(1,1.02)" class="b" font-size="13.1" fill="#231815">Event 1</text>
<text transform="translate(153,512.5) rotate(0.03) scale(1,1.02)" class="b" font-size="15.08" fill="#231815">Slip event of Fujikawa-kako fault zone</text>
<polyline points="428,508.2 477.8,508.2 477.8,495.3" fill="none" stroke="#231815" stroke-width="1"/>
<line x1="76.30" y1="544.50" x2="646.20" y2="544.50" stroke="#231815" stroke-width="1"/>
<line x1="76.69" y1="535.20" x2="76.69" y2="545.00" stroke="#231815" stroke-width="1"/>
<line x1="133.59" y1="535.20" x2="133.59" y2="545.00" stroke="#231815" stroke-width="1"/>
<line x1="190.49" y1="535.20" x2="190.49" y2="545.00" stroke="#231815" stroke-width="1"/>
<line x1="247.39" y1="535.20" x2="247.39" y2="545.00" stroke="#231815" stroke-width="1"/>
<line x1="304.29" y1="535.20" x2="304.29" y2="545.00" stroke="#231815" stroke-width="1"/>
<line x1="361.19" y1="535.20" x2="361.19" y2="545.00" stroke="#231815" stroke-width="1"/>
<line x1="418.09" y1="535.20" x2="418.09" y2="545.00" stroke="#231815" stroke-width="1"/>
<line x1="474.99" y1="535.20" x2="474.99" y2="545.00" stroke="#231815" stroke-width="1"/>
<line x1="531.89" y1="535.20" x2="531.89" y2="545.00" stroke="#231815" stroke-width="1"/>
<line x1="588.79" y1="535.20" x2="588.79" y2="545.00" stroke="#231815" stroke-width="1"/>
<line x1="645.69" y1="535.20" x2="645.69" y2="545.00" stroke="#231815" stroke-width="1"/>
<text transform="translate(73.7,559) rotate(0.03) scale(1,1.04)" font-size="14.75" fill="#231815" text-anchor="middle">-3000</text>
<text transform="translate(187.5,559) rotate(0.03) scale(1,1.04)" font-size="14.75" fill="#231815" text-anchor="middle">-2000</text>
<text transform="translate(305.6,559) rotate(0.03) scale(1,1.04)" font-size="14.75" fill="#231815" text-anchor="middle">-1000</text>
<text transform="translate(418.9,559) rotate(0.03) scale(1,1.04)" font-size="14.75" fill="#231815" text-anchor="middle">0</text>
<text transform="translate(534.4,559) rotate(0.03) scale(1,1.04)" font-size="14.75" fill="#231815" text-anchor="middle">1000</text>
<text transform="translate(646.9,559) rotate(0.03) scale(1,1.04)" font-size="14.75" fill="#231815" text-anchor="middle">2000</text>
<text transform="translate(493.9,564.5) rotate(90.03) scale(1,1.04)" class="b" font-size="13.2" fill="#231815">684</text>
<text transform="translate(514.7,564.5) rotate(90.03) scale(1,1.04)" class="b" font-size="13.2" fill="#231815">887</text>
<text transform="translate(538.7,564.5) rotate(90.03) scale(1,1.04)" class="b" font-size="13.2" fill="#231815">1096</text>
<text transform="translate(564.4,564.5) rotate(90.03) scale(1,1.04)" class="b" font-size="13.2" fill="#231815">1361</text>
<text transform="translate(582.1,564.5) rotate(90.03) scale(1,1.04)" class="b" font-size="13.2" fill="#231815">1498</text>
<text transform="translate(597.0,564.5) rotate(90.03) scale(1,1.04)" class="b" font-size="13.2" fill="#231815">1605</text>
<text transform="translate(609.4,564.5) rotate(90.03) scale(1,1.04)" class="b" font-size="13.2" fill="#231815">1707</text>
<text transform="translate(625.0,564.5) rotate(90.03) scale(1,1.04)" class="b" font-size="13.2" fill="#231815">1854</text>
<text transform="translate(640.1,564.5) rotate(90.03) scale(1,1.04)" class="b" font-size="13.2" fill="#231815">1944</text>
<text transform="translate(191,605.3) rotate(0.03) scale(1,1.02)" class="b" font-size="15" fill="#231815">Historical earthquakes and tsunamis</text>
<polyline points="458,599.6 494,599.6 494,594.5 494,603.9 651.3,603.9 651.3,594.5" fill="none" stroke="#231815" stroke-width="1"/>
<text transform="translate(82.4,642) rotate(0.03) scale(1,1.02)" font-size="15.05" fill="#231815">Submergence event shown by</text>
<text transform="translate(158.5,661) rotate(0.03) scale(1,1.02)" font-size="15" fill="#231815">diatoms only</text>
<text transform="translate(158.5,677.1) rotate(0.03) scale(1,1.02)" font-size="15.05" fill="#231815">plant macrofossils only</text>
<text transform="translate(158.5,693.4) rotate(0.03) scale(1,1.02)" font-size="15" fill="#231815">both</text>
<line x1="119.50" y1="657.50" x2="147.00" y2="657.50" stroke="#898989" stroke-width="1" stroke-dasharray="5.4,2"/>
<line x1="119.50" y1="673.50" x2="147.00" y2="673.50" stroke="#898989" stroke-width="1" stroke-dasharray="1.2,3.4"/>
<line x1="119.50" y1="689.50" x2="147.00" y2="689.50" stroke="#898989" stroke-width="1"/>
<text transform="translate(491.5,48.5) rotate(0.03) scale(1,1.02)" font-size="15.1" fill="#231815">95 % credible interval</text>
<line x1="629.50" y1="53.00" x2="629.50" y2="71.00" stroke="#231815" stroke-width="0.85"/>
<text transform="translate(358.3,69.8) rotate(0.03) scale(1,1.02)" font-size="15.05" fill="#231815">Density plot for radiocarbon age</text>
<line x1="559.50" y1="74.00" x2="559.50" y2="104.50" stroke="#231815" stroke-width="0.85"/>
<text transform="translate(339.3,412.9) rotate(0.03) scale(1,1.02)" font-size="15.2" fill="#231815">Number in Table 1</text>
<text transform="translate(321.8,434.9) rotate(0.03) scale(1,1.02)" font-size="15.05" fill="#231815">Conventional age (BP)</text>
<line x1="361.30" y1="361.20" x2="361.30" y2="401.00" stroke="#231815" stroke-width="0.85"/>
<line x1="326.50" y1="361.20" x2="326.50" y2="420.70" stroke="#231815" stroke-width="0.85"/>
<text transform="translate(645.00,107.80) rotate(0.03) scale(0.862,1)" font-size="9.7" fill="#595757" style="text-rendering:geometricPrecision">270±30 (2)</text>
<text transform="translate(645.00,117.80) rotate(0.03) scale(0.862,1)" font-size="9.7" fill="#595757" style="text-rendering:geometricPrecision">250±30 (3)</text>
<text transform="translate(607.60,132.10) rotate(0.03) scale(0.862,1)" font-size="9.7" fill="#595757" style="text-rendering:geometricPrecision">370±30 (4)</text>
<text transform="translate(573.70,148.90) rotate(0.03) scale(0.862,1)" font-size="9.7" fill="#595757" style="text-rendering:geometricPrecision">780±30 (6)</text>
<text transform="translate(534.20,173.60) rotate(0.03) scale(0.862,1)" font-size="9.7" fill="#595757" style="text-rendering:geometricPrecision">1210±30 (9)</text>
<text transform="translate(534.20,182.30) rotate(0.03) scale(0.862,1)" font-size="9.7" fill="#595757" style="text-rendering:geometricPrecision">1250±30 (10)</text>
<text transform="translate(534.20,191.00) rotate(0.03) scale(0.862,1)" font-size="9.7" fill="#595757" style="text-rendering:geometricPrecision">1290±30 (12)</text>
<text transform="translate(534.20,199.70) rotate(0.03) scale(0.862,1)" font-size="9.7" fill="#595757" style="text-rendering:geometricPrecision">1500±30 (13)</text>
<text transform="translate(534.20,208.40) rotate(0.03) scale(0.862,1)" font-size="9.7" fill="#595757" style="text-rendering:geometricPrecision">1310±30 (14)</text>
<text transform="translate(495.00,219.60) rotate(0.03) scale(0.862,1)" font-size="9.7" fill="#595757" style="text-rendering:geometricPrecision">1580±30 (15)</text>
<text transform="translate(486.60,231.70) rotate(0.03) scale(0.862,1)" font-size="9.7" fill="#595757" style="text-rendering:geometricPrecision">1680±30 (16)</text>
<text transform="translate(426.70,256.20) rotate(0.03) scale(0.862,1)" font-size="9.7" fill="#595757" style="text-rendering:geometricPrecision">2080±30 (17)</text>
<text transform="translate(378.30,294.40) rotate(0.03) scale(0.862,1)" font-size="9.7" fill="#595757" style="text-rendering:geometricPrecision">2520±30 (21)</text>
<text transform="translate(357.20,304.30) rotate(0.03) scale(0.862,1)" font-size="9.7" fill="#595757" style="text-rendering:geometricPrecision">2610±30 (22)</text>
<text transform="translate(331.80,313.70) rotate(0.03) scale(0.862,1)" font-size="9.7" fill="#595757" style="text-rendering:geometricPrecision">2770±30 (23)</text>
<text transform="translate(321.60,346.20) rotate(0.03) scale(0.862,1)" font-size="9.7" fill="#595757" style="text-rendering:geometricPrecision">2870±30 (24)</text>
<text transform="translate(318.60,359.10) rotate(0.03) scale(0.862,1)" font-size="9.7" fill="#595757" style="text-rendering:geometricPrecision">2910±30 (25)</text>
<text transform="translate(262.00,395.20) rotate(0.03) scale(0.862,1)" font-size="9.7" fill="#595757" style="text-rendering:geometricPrecision">3380±30 (28)</text>
<text transform="translate(262.00,404.70) rotate(0.03) scale(0.862,1)" font-size="9.7" fill="#595757" style="text-rendering:geometricPrecision">3310±30 (29)</text>
<text transform="translate(194.10,409.80) rotate(0.03) scale(0.862,1)" font-size="9.7" fill="#595757" style="text-rendering:geometricPrecision">3750±30 (30)</text>
<text transform="translate(194.10,418.50) rotate(0.03) scale(0.862,1)" font-size="9.7" fill="#595757" style="text-rendering:geometricPrecision">3900±30 (32)</text>
<text transform="translate(194.10,427.10) rotate(0.03) scale(0.862,1)" font-size="9.7" fill="#595757" style="text-rendering:geometricPrecision">3840±30 (34)</text>
<text transform="translate(194.10,435.80) rotate(0.03) scale(0.862,1)" font-size="9.7" fill="#595757" style="text-rendering:geometricPrecision">3890±30 (35)</text>
<text transform="translate(194.10,444.50) rotate(0.03) scale(0.862,1)" font-size="9.7" fill="#595757" style="text-rendering:geometricPrecision">3960±30 (36)</text>
<text transform="translate(194.10,453.20) rotate(0.03) scale(0.862,1)" font-size="9.7" fill="#595757" style="text-rendering:geometricPrecision">3830±30 (37)</text>
</svg></body></html>
